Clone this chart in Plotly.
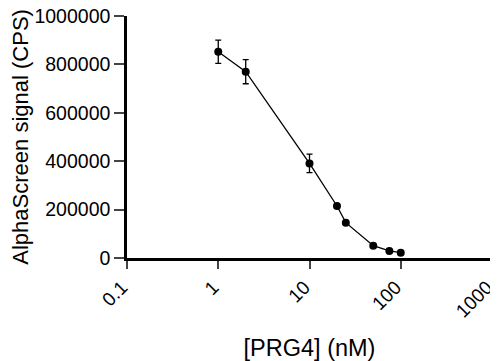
import plotly.graph_objects as go

conc_nm = [1, 2, 10, 20, 25, 50, 75, 100]
signal_cps = [852000, 770000, 391000, 215000, 146000, 51000, 29000, 22000]
signal_err = [48000, 50000, 38000, 0, 0, 0, 0, 0]

x_ticks = [0.1, 1, 10, 100, 1000]
x_ticklabels = ['0.1', '1', '10', '100', '1000']
y_ticks = [0, 200000, 400000, 600000, 800000, 1000000]

font_family = 'Liberation Sans, Arial, sans-serif'

fig = go.Figure()
fig.add_trace(go.Scatter(
    x=conc_nm, y=signal_cps, mode='lines+markers',
    line={'color': 'black', 'width': 1.3},
    marker={'color': 'black', 'size': 8},
    error_y={'type': 'data', 'array': signal_err, 'visible': True,
             'color': 'black', 'thickness': 1.3, 'width': 3},
    showlegend=False,
    cliponaxis=False,
))

# page body has an 8px margin, so the figure is shrunk by that much
fig.layout = {
    'width': 490,
    'height': 353,
    'margin': {'l': 119, 'r': 6, 't': 8, 'b': 103},
    'plot_bgcolor': 'white',
    'paper_bgcolor': 'white',
    'font': {'family': font_family, 'color': 'black', 'size': 20},
    'xaxis': {
        'type': 'log',
        'range': [-1.0001, 3.0001],
        'tickvals': x_ticks,
        'ticktext': x_ticklabels,
        'tickangle': -45,
        'ticks': 'outside',
        'ticklen': 8,
        'tickwidth': 2,
        'showline': True,
        'linewidth': 2.5,
        'linecolor': 'black',
        'showgrid': False,
        'zeroline': False,
        'automargin': False,
        'ticklabeloverflow': 'allow',
        'ticklabelshift': -5,
        'tickfont': {'size': 19},
        'title': {'text': '[PRG4] (nM)', 'font': {'size': 23.5}, 'standoff': 22},
    },
    'yaxis': {
        'range': [0, 1000000],
        'tickvals': y_ticks,
        'tickformat': 'd',
        'ticks': 'outside',
        'ticklen': 10,
        'tickwidth': 2,
        'showline': True,
        'linewidth': 2.5,
        'linecolor': 'black',
        'showgrid': False,
        'zeroline': False,
        'automargin': False,
        'ticklabeloverflow': 'allow',
        'tickfont': {'size': 19.5},
    },
    'annotations': [{
        'text': 'AlphaScreen signal (CPS)', 'textangle': -90,
        'xref': 'paper', 'yref': 'paper', 'x': -0.294, 'y': 0.5,
        'xanchor': 'center', 'yanchor': 'middle', 'showarrow': False,
        'font': {'size': 22},
    }],
}

fig.write_html('out.html')
